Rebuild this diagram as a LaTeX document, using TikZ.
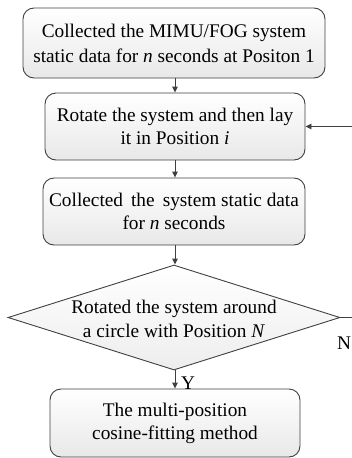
\documentclass[tikz,border=0pt]{standalone}
\usepackage{fontspec}
\setmainfont{Liberation Serif}
\usetikzlibrary{arrows.meta,shapes.geometric}
\definecolor{edge}{HTML}{404040}
\tikzset{
  x=1pt,y=1pt,
  stepbox/.style={draw=edge, line width=0.9pt, rounded corners=11pt,
    top color=white, bottom color=black!9, align=center,
    font=\fontsize{19.3}{23}\selectfont, inner sep=0pt},
  decision/.style={diamond, draw=edge, line width=0.9pt,
    top color=white, bottom color=black!7, inner sep=0pt},
  flow/.style={draw=edge, line width=0.9pt,
    -{Triangle[length=6pt,width=5.5pt]}},
  lbl/.style={font=\fontsize{19.3}{22}\selectfont, inner sep=0pt}
}
\begin{document}
\begin{tikzpicture}
\useasboundingbox (0,0) rectangle (351,-458);

\node[stepbox, minimum width=302pt, minimum height=70pt,
      font=\fontsize{19.3}{25}\selectfont] (s1) at (174,-43)
  {Collected the MIMU/FOG system\\static data for \textit{n} seconds at Positon 1};
\node[stepbox, minimum width=260pt, minimum height=67pt] (s2) at (175,-126.5)
  {Rotate the system and then lay\\it in Position \textit{i}};
\node[stepbox, minimum width=262pt, minimum height=67pt] (s3) at (174,-211.5)
  {Collected\, the\, system static data\\for \textit{n} seconds};
\node[decision, minimum width=332pt, minimum height=105pt] (dec) at (174,-317.5) {};
\node[lbl, align=center, font=\fontsize{19.3}{24}\selectfont] (dectxt) at (174,-319)
  {Rotated the system around\\a circle with Position \textit{N}};
\node[stepbox, minimum width=250pt, minimum height=68pt] (s4) at (175,-423)
  {The multi-position\\cosine-fitting method};

\coordinate (loopR) at (365,-317.5);
\coordinate (loopT) at (365,-126.5);

\draw[flow] (s1.south -| s2.north) -- (s2.north);
\draw[flow] (s2.south) -- (s2.south |- s3.north);
\draw[flow] (s3.south -| s2.south) -- (s2.south |- dec.north);
\draw[flow] (dec.south -| s4.north) -- (s4.north);
\draw[flow] (dec.east) -- (loopR) -- (loopT) -- (s2.east);

\node[lbl] (ylab) at (188,-383) {Y};
\node[lbl] (nlab) at (344,-343) {N};
\end{tikzpicture}
\end{document}
